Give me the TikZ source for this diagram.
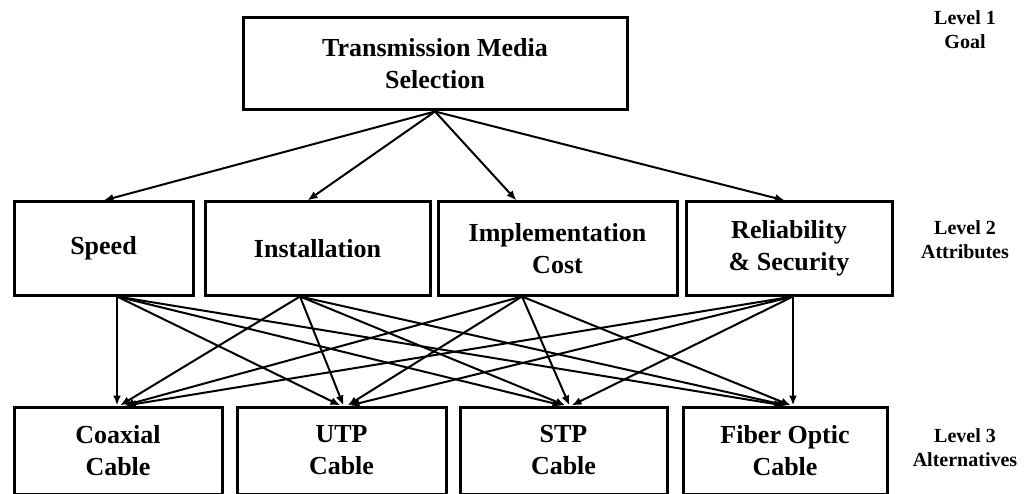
\documentclass[tikz,border=0pt]{standalone}
\usepackage{fontspec}
\setmainfont{Liberation Serif}
\usetikzlibrary{arrows.meta}
\begin{document}
\begin{tikzpicture}[x=1pt,y=-1pt,
  box/.style={draw=black,line width=3pt,rectangle,inner sep=0pt,align=center,
    font=\fontsize{26}{32}\selectfont\bfseries},
  lvl/.style={align=center,inner sep=0pt,font=\fontsize{20}{24}\selectfont\bfseries},
  arr/.style={line width=2pt,-{Latex[length=10pt,width=8pt]}}]
\useasboundingbox (0,0) rectangle (1024,494);

% Level 1: goal
\node[box,minimum width=384pt,minimum height=92pt] (goal) at (435,64)
  {Transmission Media\\Selection};

% Level 2: attributes
\node[box,minimum width=179pt,minimum height=93pt] (speed) at (103.5,248.5) {Speed};
\node[box,minimum width=225pt,minimum height=93pt] (inst) at (317.5,248.5) {Installation};
\node[box,minimum width=239pt,minimum height=93pt] (impl) at (557.5,248.5) {Implementation\\Cost};
\node[box,minimum width=206pt,minimum height=93pt] (rel) at (789,248.5) {Reliability\\\& Security};

% Level 3: alternatives
\node[box,minimum width=208pt,minimum height=87pt] (coax) at (118,450.5) {Coaxial\\Cable};
\node[box,minimum width=209pt,minimum height=87pt] (utp) at (341.5,450.5) {UTP\\Cable};
\node[box,minimum width=207pt,minimum height=87pt] (stp) at (563.5,450.5) {STP\\Cable};
\node[box,minimum width=204pt,minimum height=87pt] (fiber) at (785,450.5) {Fiber Optic\\Cable};

% Level captions
\node[lvl] (l1) at (965,30) {Level 1\\Goal};
\node[lvl] (l2) at (965,240) {Level 2\\Attributes};
\node[lvl] (l3) at (965,448) {Level 3\\Alternatives};

% Goal to attributes
\draw[arr] (goal.south) -- (speed.north);
\draw[arr] (goal.south) -- ([xshift=-10pt]inst.north);
\draw[arr] (goal.south) -- ([xshift=-41pt]impl.north);
\draw[arr] (goal.south) -- ([xshift=-4pt]rel.north);

% Every attribute to every alternative
\foreach \s/\sx/\d in {speed/13.5/-1, inst/-17.5/2, impl/-35.5/6, rel/4/8}
  \foreach \t in {coax,utp,stp,fiber}
    \draw[arr] ([xshift=\sx pt]\s.south) -- ([xshift=\d pt]\t.north);
\end{tikzpicture}
\end{document}
